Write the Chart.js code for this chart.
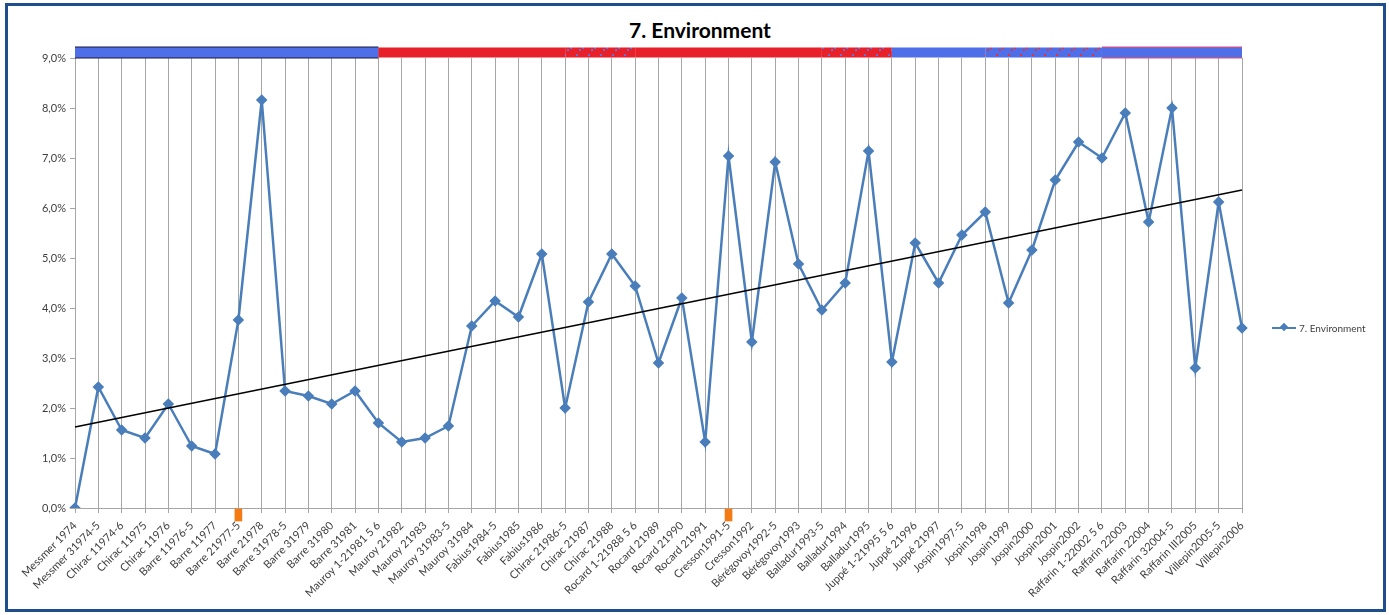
<!DOCTYPE html>
<html>
<head>
<meta charset="utf-8">
<script src="https://cdn.jsdelivr.net/npm/chart.js@4"></script>
<style>
  body { margin: 0; background: #fff; font-family: Lato, "Open Sans", sans-serif; }
  .frame { position: absolute; left: 5px; top: 3px; width: 1375px; height: 603px; border: 3px solid #1f4e8c; background: #fff; }
  .chart-title { position: absolute; left: 0; width: 1400px; top: 17px; text-align: center; font-size: 21px; font-weight: bold; color: #000; }
  .chart-container { position: absolute; left: 10px; top: 8px; width: 1375px; height: 600px; }
  .chart-legend { position: absolute; left: 1272px; top: 322px; font-size: 10px; color: #404040; display: flex; align-items: center; white-space: nowrap; z-index: 2; }
  .legend-line { position: relative; width: 24px; height: 2px; background: #4a7ebb; margin-right: 3px; }
  .legend-diamond { position: absolute; left: 9px; top: -3px; width: 6px; height: 6px; background: #4a7ebb; transform: rotate(45deg); }
</style>
</head>
<body>
<div class="frame"></div>
<div class="chart-title">7. Environment</div>
<div class="chart-container"><canvas id="env-chart"></canvas></div>
<div class="chart-legend"><span class="legend-line"><span class="legend-diamond"></span></span><span>7. Environment</span></div>
<script>
// Gouvernements / années
const categories = [
  'Messmer 1974', 'Messmer 31974-5', 'Chirac 11974-6', 'Chirac 11975', 'Chirac 11976',
  'Barre 11976-5', 'Barre 11977', 'Barre 21977-5', 'Barre 21978', 'Barre 31978-5',
  'Barre 31979', 'Barre 31980', 'Barre 31981', 'Mauroy 1-21981 5 6', 'Mauroy 21982',
  'Mauroy 21983', 'Mauroy 31983-5', 'Mauroy 31984', 'Fabius1984-5', 'Fabius1985',
  'Fabius1986', 'Chirac 21986-5', 'Chirac 21987', 'Chirac 21988', 'Rocard 1-21988 5 6',
  'Rocard 21989', 'Rocard 21990', 'Rocard 21991', 'Cresson1991-5', 'Cresson1992',
  'Bérégovoy1992-5', 'Bérégovoy1993', 'Balladur1993-5', 'Balladur1994', 'Balladur1995',
  'Juppé 1-21995 5 6', 'Juppé 21996', 'Juppé 21997', 'Jospin1997-5', 'Jospin1998',
  'Jospin1999', 'Jospin2000', 'Jospin2001', 'Jospin2002', 'Raffarin 1-22002 5 6',
  'Raffarin 22003', 'Raffarin 22004', 'Raffarin 32004-5', 'Raffarin III2005', 'Villepin2005-5',
  'Villepin2006'
];

// 7. Environment (%)
const environment = [
  0.00, 2.42, 1.56, 1.40, 2.08, 1.24, 1.08, 3.76, 8.16, 2.34,
  2.24, 2.08, 2.34, 1.70, 1.32, 1.40, 1.64, 3.64, 4.14, 3.82,
  5.08, 2.00, 4.12, 5.08, 4.44, 2.90, 4.20, 1.32, 7.04, 3.32,
  6.92, 4.88, 3.96, 4.50, 7.14, 2.92, 5.30, 4.50, 5.46, 5.92,
  4.10, 5.16, 6.56, 7.32, 7.00, 7.90, 5.72, 8.00, 2.80, 6.12,
  3.60
];

// tendance linéaire (début / fin)
const trendStart = 1.62;
const trendEnd = 6.36;

// bandeau des majorités : index de début, type
const bandStarts = [0, 13, 21, 24, 32, 35, 39, 44];
const bandKinds = ['droite', 'gauche', 'cohabG', 'gauche', 'cohabG', 'droite', 'cohabD', 'droite'];
const bandLevel = 9.11;

// repères orange sous l'axe
const eventIdx = [7, 28];
const eventRange = [-0.26, -0.02];

const BLUE = '#4f6fe8';
const RED = '#e8202a';

function dotPattern(bg, dot) {
  const c = document.createElement('canvas');
  c.width = 12; c.height = 11;
  const g = c.getContext('2d');
  g.fillStyle = bg; g.fillRect(0, 0, 12, 11);
  g.fillStyle = dot;
  g.fillRect(2, 2, 2, 2);
  g.fillRect(8, 6, 2, 2);
  g.fillRect(5, 8, 2, 2);
  return g.createPattern(c, 'repeat');
}
const kindColors = {
  droite: BLUE,
  gauche: RED,
  cohabG: dotPattern(RED, '#6a6fd8'),
  cohabD: dotPattern(BLUE, '#e8303a')
};

function kindAt(i) {
  let k = bandKinds[0];
  bandStarts.forEach((s, n) => { if (i >= s) k = bandKinds[n]; });
  return k;
}

const trendData = categories.map((_, i) => i === 0 ? trendStart : (i === categories.length - 1 ? trendEnd : null));
const bandData = categories.map(() => bandLevel);
const eventData = categories.map((_, i) => eventIdx.includes(i) ? eventRange : null);

const ctx = document.getElementById('env-chart').getContext('2d');
new Chart(ctx, {
  data: {
    labels: categories,
    datasets: [
      {
        type: 'line',
        data: bandData,
        borderWidth: 12,
        borderCapStyle: 'butt',
        pointRadius: 0,
        clip: false,
        order: 5,
        segment: {
          borderColor: c => c.p0DataIndex < 13 ? '#1a1a3a' : (c.p0DataIndex >= 44 ? '#f04a6a' : 'rgba(0,0,0,0)')
        }
      },
      {
        type: 'line',
        data: bandData,
        borderWidth: 10,
        borderCapStyle: 'butt',
        pointRadius: 0,
        clip: false,
        order: 4,
        segment: {
          borderColor: c => kindColors[kindAt(c.p0DataIndex)]
        }
      },
      {
        type: 'bar',
        data: eventData,
        backgroundColor: '#f47a14',
        barThickness: 7,
        clip: false,
        order: 3
      },
      {
        type: 'line',
        label: '7. Environment',
        data: environment,
        borderColor: '#4a7ebb',
        backgroundColor: '#4a7ebb',
        borderWidth: 2.5,
        pointStyle: 'rectRot',
        pointRadius: 4,
        tension: 0,
        order: 2
      },
      {
        type: 'line',
        data: trendData,
        spanGaps: true,
        borderColor: '#000',
        borderWidth: 1.6,
        pointRadius: 0,
        order: 1
      }
    ]
  },
  options: {
    responsive: true,
    maintainAspectRatio: false,
    animation: false,
    layout: { padding: { top: 50, right: 143, left: 0, bottom: 0 } },
    plugins: {
      legend: { display: false },
      tooltip: { enabled: false },
      title: { display: false }
    },
    scales: {
      x: {
        offset: false,
        grid: { offset: false, color: '#a6a6a6', lineWidth: 1, tickLength: 5, drawOnChartArea: true },
        border: { color: '#a6a6a6' },
        ticks: {
          autoSkip: false,
          maxRotation: 45,
          minRotation: 45,
          padding: 6,
          color: '#404040',
          font: { family: 'Lato', size: 11 }
        },
        afterFit: s => { s.height = 100; }
      },
      y: {
        min: 0,
        max: 9,
        ticks: {
          stepSize: 1,
          padding: 4,
          color: '#404040',
          font: { family: 'Lato', size: 11 },
          callback: v => v.toFixed(1).replace('.', ',') + '%'
        },
        grid: { drawOnChartArea: false, tickLength: 5, color: '#a6a6a6' },
        border: { color: '#a6a6a6' },
        afterFit: s => { s.width = 65; }
      }
    }
  }
});
</script>
</body>
</html>
